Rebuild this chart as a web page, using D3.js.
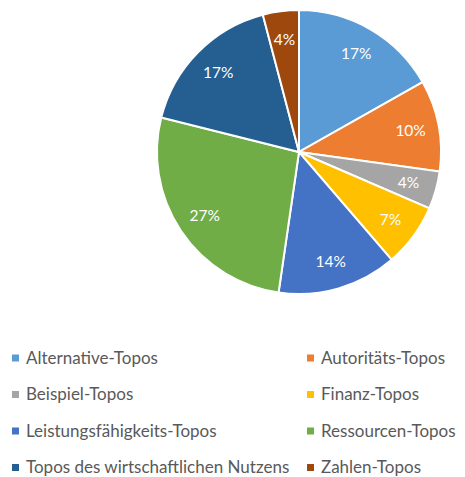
<!DOCTYPE html>
<html>
<head>
<meta charset="utf-8">
<script src="https://cdn.jsdelivr.net/npm/d3@7"></script>
<style>
  body { margin: 0; background: #fff; }
  svg { display: block; font-family: Lato, "Noto Sans", sans-serif; }
</style>
</head>
<body>
<svg width="465" height="477"></svg>
<script>
var categories = ["Alternative-Topos", "Autoritäts-Topos", "Beispiel-Topos", "Finanz-Topos",
  "Leistungsfähigkeits-Topos", "Ressourcen-Topos", "Topos des wirtschaftlichen Nutzens", "Zahlen-Topos"];
var shares = [16.8, 10.4, 4.3, 7.2, 13.6, 26.6, 17.0, 4.1];
var labels = ["17%", "10%", "4%", "7%", "14%", "27%", "17%", "4%"];
var colors = ["#5b9bd5", "#ed7d31", "#a5a5a5", "#ffc000", "#4472c4", "#70ad47", "#255e91", "#9e480e"];

var svg = d3.select("svg");
var cx = 299, cy = 152, radius = 142;

var pie = d3.pie().sort(null).value(function (d) { return d; });
var arcs = pie(shares);
var arc = d3.arc().innerRadius(0).outerRadius(radius);
var labelArc = d3.arc().innerRadius(radius * 0.8).outerRadius(radius * 0.8);

var g = svg.append("g").attr("transform", "translate(" + cx + "," + cy + ")");
g.selectAll("path")
  .data(arcs)
  .join("path")
  .attr("d", arc)
  .attr("fill", function (d, i) { return colors[i]; })
  .attr("stroke", "#fff")
  .attr("stroke-width", 2);

g.selectAll("text")
  .data(arcs)
  .join("text")
  .attr("transform", function (d) { return "translate(" + labelArc.centroid(d) + ")"; })
  .attr("text-anchor", "middle")
  .attr("dy", "0.35em")
  .attr("fill", "#fff")
  .style("font-size", "15.5px")
  .text(function (d, i) { return labels[i]; });

// legend, two columns
var legend = svg.append("g");
var item = legend.selectAll("g")
  .data(categories)
  .join("g")
  .attr("transform", function (d, i) {
    var x = i % 2 === 0 ? 12 : 307;
    var y = 358 + Math.floor(i / 2) * 36.5;
    return "translate(" + x + "," + y + ")";
  });
item.append("rect")
  .attr("x", 0).attr("y", -3.5)
  .attr("width", 7).attr("height", 7)
  .attr("fill", function (d, i) { return colors[i]; });
item.append("text")
  .attr("x", 14)
  .attr("dy", "0.35em")
  .attr("fill", "#595959")
  .style("font-size", "17px")
  .text(function (d) { return d; });
</script>
</body>
</html>
